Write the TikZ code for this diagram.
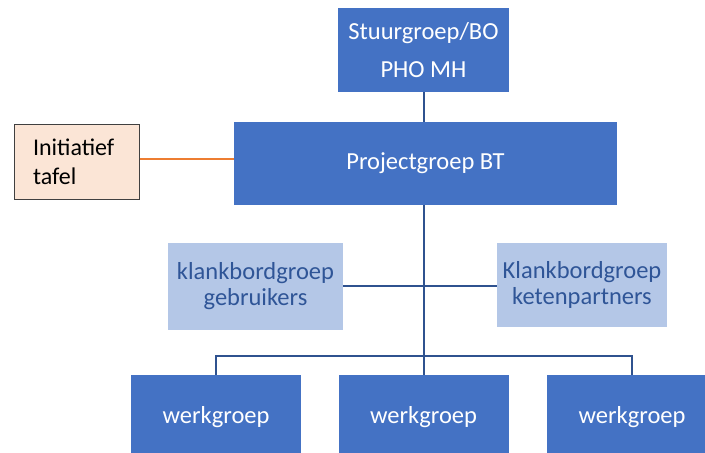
\documentclass[tikz,border=0pt]{standalone}
\usepackage{fontspec}
\setmainfont{Carlito}
\definecolor{mainblue}{HTML}{4472C4}
\definecolor{lightblue}{HTML}{B4C7E7}
\definecolor{darkblue}{HTML}{2F5597}
\definecolor{linkblue}{HTML}{2F528F}
\definecolor{peach}{HTML}{FBE5D6}
\definecolor{orangeline}{HTML}{ED7D31}
\definecolor{border}{HTML}{404040}
\tikzset{
  mainbox/.style={rectangle, fill=mainblue, text=white, inner sep=0pt, align=center,
    font=\fontsize{24.5}{38}\selectfont},
  sidebox/.style={rectangle, fill=lightblue, text=darkblue, inner sep=0pt, align=center,
    font=\fontsize{24.5}{26}\selectfont},
  initbox/.style={rectangle, fill=peach, draw=border, line width=1pt, text=black,
    inner xsep=19pt, inner ysep=0pt, align=left, text width=87pt,
    font=\fontsize{24}{29}\selectfont},
  conn/.style={draw=linkblue, line width=1.4pt},
  thickconn/.style={draw=linkblue, line width=2.4pt},
  initline/.style={draw=orangeline, line width=1.3pt},
}
\begin{document}
\begin{tikzpicture}[x=1pt, y=-1pt]
\useasboundingbox (0,0) rectangle (705,453);
\clip (0,0) rectangle (705,453);
\node[mainbox, minimum width=171pt, minimum height=84pt] (stuur) at (423.5,50) {Stuurgroep/BO\\PHO MH};
\node[mainbox, minimum width=383pt, minimum height=83pt] (proj) at (425.5,163.5) {Projectgroep BT};
\node[initbox, minimum height=75pt] (init) at (76.5,161.5) {Initiatief\\tafel};
\node[sidebox, minimum width=175pt, minimum height=87pt] (kbg) at (255.5,286.5) {klankbordgroep\\gebruikers};
\node[sidebox, minimum width=170pt, minimum height=84pt] (kbk) at (582,285) {Klankbordgroep\\ketenpartners};
\node[mainbox, minimum width=170pt, minimum height=84pt] (wg1) at (216,417) {werkgroep};
\node[mainbox, minimum width=170pt, minimum height=84pt] (wg2) at (423.5,417) {werkgroep};
\node[mainbox, minimum width=170pt, minimum height=84pt] (wg3) at (632,417) {werkgroep};
\coordinate (bus) at (424,356);
\coordinate (top) at (424,92);
% connectors
\draw[thickconn] (stuur.south -| top) -- (proj.north -| top);
\draw[initline] (init.east |- 0,159) -- (proj.west |- 0,159);
\draw[thickconn] (proj.south -| bus) -- (bus);
\draw[conn] (bus) -- (wg2.north -| bus);
\draw[conn] (kbg.east |- 0,286) -- (kbk.west |- 0,286);
\draw[conn] (wg1.north) -- (wg1.north |- bus) -- (wg3.north |- bus) -- (wg3.north);
\end{tikzpicture}
\end{document}
